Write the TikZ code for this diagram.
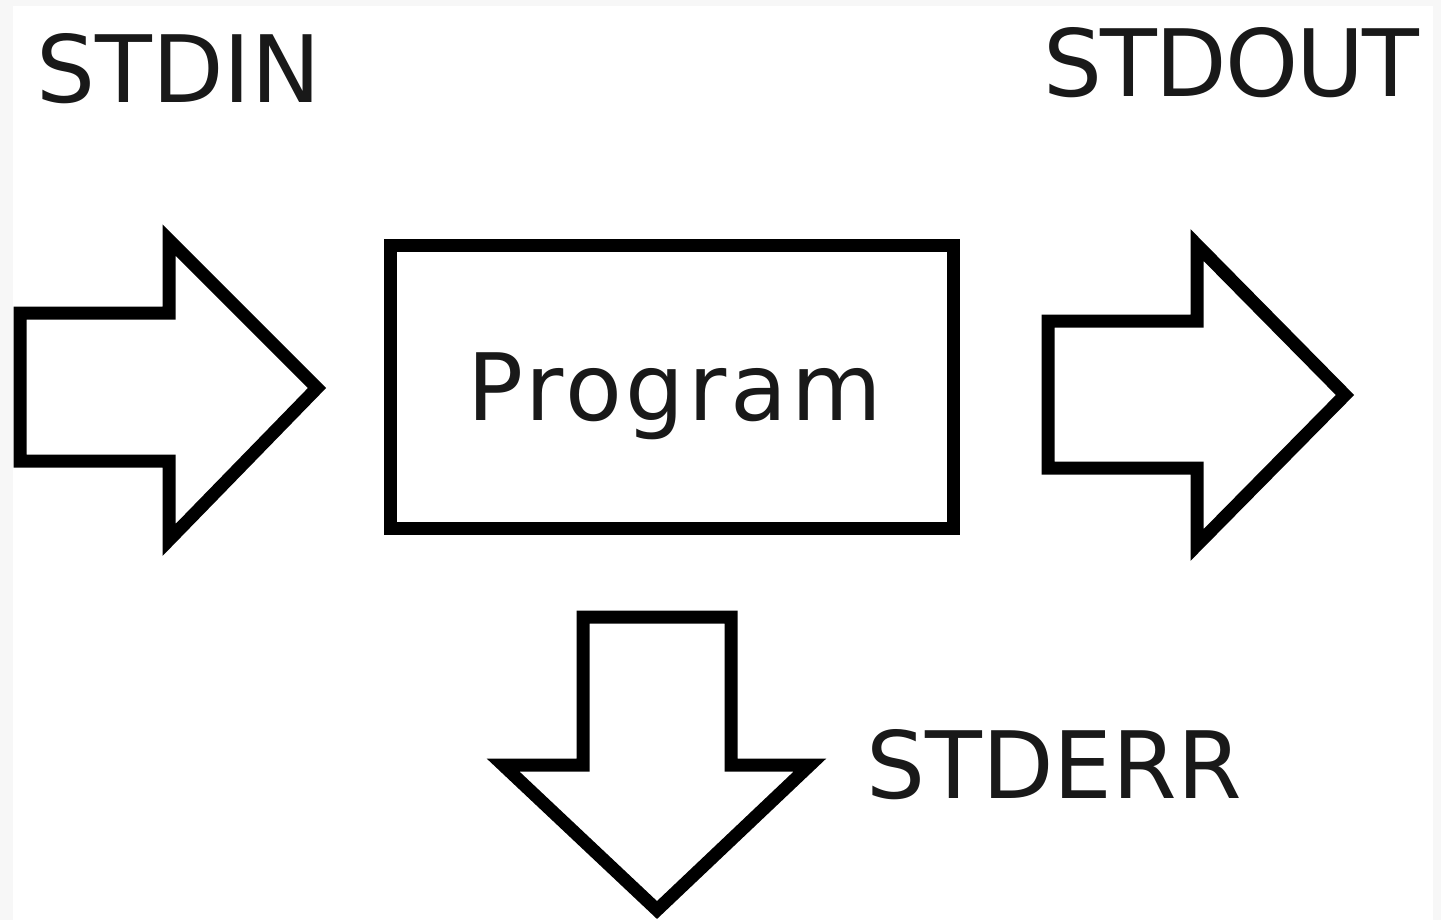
\documentclass[tikz,border=0pt]{standalone}
\usepackage{fontspec}
\setmainfont{DejaVu Sans}
\begin{document}
\begin{tikzpicture}[x=1pt,y=-1pt,
  fatarrow/.style={draw=black,line width=13pt,fill=white,line join=miter},
  progbox/.style={draw=black,line width=13pt,fill=white},
  lbl/.style={inner sep=0pt,anchor=base west,text=black!90,font=\fontsize{93}{100}\selectfont}]
\fill[black!3] (0,0) rectangle (1441,920);
\fill[white] (13,6) rectangle (1433,920);
\useasboundingbox (0,0) rectangle (1441,920);
\begin{scope}
\clip (13,6) rectangle (1433,920);
% STDIN arrow
\draw[fatarrow] (20,313) coordinate (inA) -- (169,313) -- (169,240) -- (317,388) coordinate (inTip) -- (169,540) -- (169,461) -- (20,461) -- cycle;
% Program box
\draw[progbox] (390,246) rectangle (953,528);
% STDOUT arrow
\draw[fatarrow] (1048,321) -- (1197,321) -- (1197,245) -- (1345,395) coordinate (outTip) -- (1197,545) -- (1197,468) -- (1048,468) -- cycle;
% STDERR arrow
\draw[fatarrow] (583,617) -- (731,617) -- (731,765) -- (810,765) -- (657,910) coordinate (errTip) -- (503,765) -- (583,765) -- cycle;
\end{scope}
\node[lbl] (stdin) at (36,103) {STDIN};
\node[lbl] (stdout) at (1043,97) {\addfontfeature{LetterSpace=-2}STDOUT};
\node[lbl] (stderr) at (866,798) {STDERR};
\node[lbl] (program) at (467,420) {\addfontfeature{LetterSpace=4}Program};
\end{tikzpicture}
\end{document}
